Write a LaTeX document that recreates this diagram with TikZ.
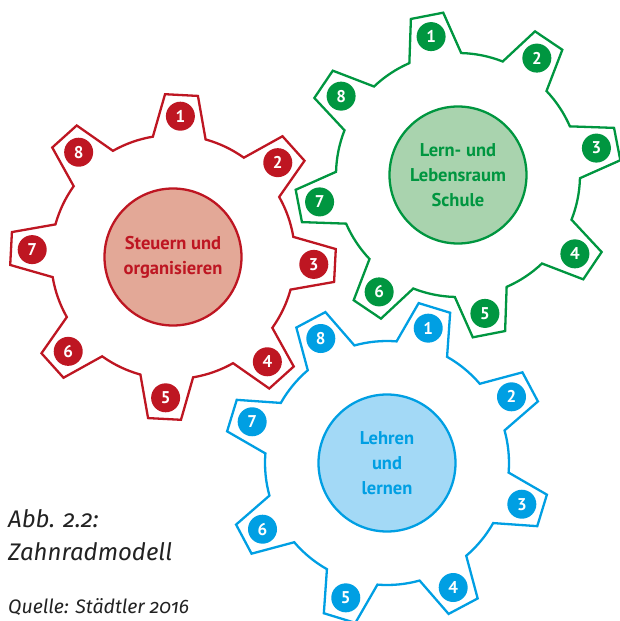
\documentclass[tikz,border=0pt]{standalone}
\usepackage{fontspec}
\setmainfont{PT Sans}
\newfontfamily\capfont[Numbers=OldStyle]{Fira Sans}
\definecolor{gred}{HTML}{BE1622}
\definecolor{gredfill}{HTML}{E3A897}
\definecolor{ggreen}{HTML}{009640}
\definecolor{ggreenfill}{HTML}{A9D3AE}
\definecolor{gblue}{HTML}{009FE3}
\definecolor{gbluefill}{HTML}{A3D9F6}
\definecolor{captext}{HTML}{222222}
\tikzset{
  gearline/.style={draw=#1, line width=2.3pt, fill=white, line join=miter},
  hub/.style={circle, minimum size=137pt, inner sep=0pt, line width=2.3pt, align=center,
    font=\fontsize{18.5}{25}\selectfont\bfseries},
  num/.style={circle, minimum size=29pt, inner sep=0pt, text=white,
    font=\fontsize{17}{17}\selectfont\bfseries},
  captxt/.style={anchor=base west, inner sep=0pt, text=captext}
}
\newcommand\mygear[6]{%
  \begin{scope}[shift={(#1)}]
    \draw[gearline=#3] ({#2+12.5}:122)
      \foreach \k [evaluate=\k as \a using #2-45*\k] in {0,...,7}{
        -- ({\a+5.8}:163) -- ({\a-5.8}:163) -- ({\a-12.5}:122)
        arc[start angle={\a-12.5}, end angle={\a-32.5}, radius=122]
      } -- cycle;
    \node[hub, draw=#3, fill=#4, text=#3] (#6) at (0,0) {#5};
    \foreach \k [evaluate=\k as \a using #2-45*\k, count=\n] in {0,...,7}
      \node[num, fill=#3] (#6-\n) at (\a:141) {\n};
  \end{scope}}
\begin{document}
\begin{tikzpicture}[x=1pt,y=1pt]
\useasboundingbox (0,0) rectangle (619,-621);
\mygear{173,-257}{87}{gred}{gredfill}{Steuern und\\organisieren}{red}
\mygear{458,-175}{101}{ggreen}{ggreenfill}{Lern- und\\Lebensraum\\Schule}{green}
\mygear{387,-463}{73}{gblue}{gbluefill}{Lehren\\und\\lernen}{blue}
\node[captxt, font=\capfont\itshape\fontsize{24}{24}\selectfont] (cap1) at (8,-527) {Abb. 2.2:};
\node[captxt, font=\capfont\itshape\fontsize{24}{24}\selectfont] (cap2) at (8,-560) {Zahnradmodell};
\node[captxt, font=\capfont\itshape\fontsize{19.5}{19.5}\selectfont] (src) at (8,-613) {Quelle: Städtler 2016};
\end{tikzpicture}
\end{document}
